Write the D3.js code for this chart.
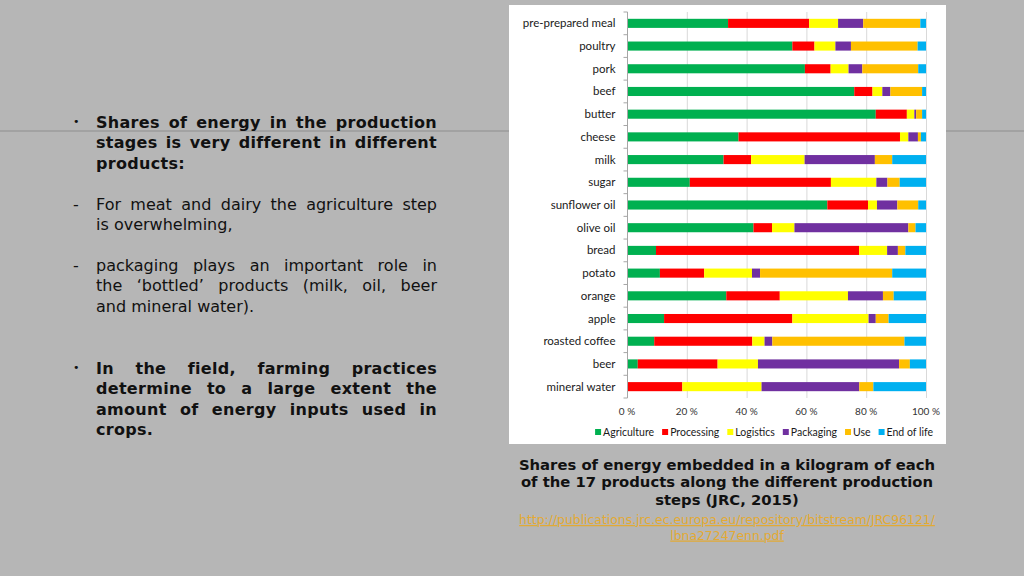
<!DOCTYPE html>
<html>
<head>
<meta charset="utf-8">
<script src="https://cdn.jsdelivr.net/npm/d3@7"></script>
<style>
  html, body { margin: 0; padding: 0; background: #b6b6b6; }
  svg { display: block; }
</style>
</head>
<body>
<svg id="chart" width="1024" height="576"></svg>
<script>
// ---------- DATA ----------
const categories = ["pre-prepared meal","poultry","pork","beef","butter","cheese","milk","sugar",
  "sunflower oil","olive oil","bread","potato","orange","apple","roasted coffee","beer","mineral water"];
const seriesNames = ["Agriculture","Processing","Logistics","Packaging","Use","End of life"];
const agriculture = [33.8,55.3,59.5,76.0,83.2,37.3,32.3,21.0,67.0,42.3, 9.7,11.0,33.2,12.4, 9.1, 3.6, 0.0];
const processing  = [27.1, 7.4, 8.6, 6.1,10.4,54.0, 9.2,47.2,13.6, 6.2,67.9,14.8,17.9,42.9,32.8,26.7,18.5];
const logistics   = [ 9.7, 7.0, 6.0, 3.3, 2.5, 2.8,17.9,15.2, 3.0, 7.5, 9.4,16.0,22.8,25.5, 4.1,13.5,26.5];
const packaging   = [ 8.4, 5.2, 4.6, 2.7, 0.6, 3.2,23.5, 3.7, 6.8,38.1, 3.6, 2.7,11.7, 2.4, 2.6,47.2,32.7];
const use         = [19.1,22.3,18.7,10.6, 2.0, 1.0, 5.8, 4.1, 7.0, 2.4, 2.5,44.2, 3.6, 4.3,44.2, 3.6, 4.7];
const endOfLife   = [ 1.9, 2.8, 2.6, 1.3, 1.3, 1.7,11.3, 8.8, 2.6, 3.5, 6.9,11.3,10.8,12.5, 7.2, 5.4,17.6];
const xTicks = [0, 0.2, 0.4, 0.6, 0.8, 1.0];
const xTickLabels = ["0 %","20 %","40 %","60 %","80 %","100 %"];
const colors = ["#00b050","#ff0000","#ffff00","#7030a0","#ffc000","#00b0f0"];

const bulletText = [
  {mark:"•", bold:true, y:128, lines:["Shares of energy in the production","stages is very different in different","products:"]},
  {mark:"-", bold:false, y:210, lines:["For meat and dairy the agriculture step","is overwhelming,"]},
  {mark:"-", bold:false, y:271, lines:["packaging plays an important role in","the ‘bottled’ products (milk, oil, beer","and mineral water)."]},
  {mark:"•", bold:true, y:374, lines:["In the field, farming practices","determine to a large extent the","amount of energy inputs used in","crops."]}
];
const captionLines = ["Shares of energy embedded in a kilogram of each","of the 17 products along the different production","steps (JRC, 2015)"];
const linkLines = ["http://publications.jrc.ec.europa.eu/repository/bitstream/JRC96121/","lbna27247enn.pdf"];

// ---------- DRAW ----------
const svg = d3.select("#chart");
svg.append("rect").attr("width",1024).attr("height",576).attr("fill","#b6b6b6");

// slide rule line
svg.append("line").attr("x1",0).attr("x2",1024).attr("y1",131).attr("y2",131)
  .attr("stroke","#8e8e8e").attr("stroke-width",1);

// chart panel
svg.append("rect").attr("x",509).attr("y",5).attr("width",437).attr("height",439).attr("fill","#ffffff");

const rows = categories.map((c,i)=>({cat:c, Agriculture:agriculture[i], Processing:processing[i],
  Logistics:logistics[i], Packaging:packaging[i], Use:use[i], "End of life":endOfLife[i]}));
const stack = d3.stack().keys(seriesNames).offset(d3.stackOffsetExpand);
const stacked = stack(rows);

const x = d3.scaleLinear().domain([0,1]).range([627,926]);
const y = d3.scaleBand().domain(categories).range([12,398]).paddingInner(0.6).paddingOuter(0.3);
const color = d3.scaleOrdinal().domain(seriesNames).range(colors);

// gridlines
svg.append("g").selectAll("line").data(xTicks.slice(1)).join("line")
  .attr("x1",d=>x(d)+0.5).attr("x2",d=>x(d)+0.5).attr("y1",12).attr("y2",398)
  .attr("stroke","#d9d9d9").attr("stroke-width",1);

// bars
svg.append("g").selectAll("g").data(stacked).join("g").attr("fill",d=>color(d.key))
  .selectAll("rect").data(d=>d).join("rect")
  .attr("x",d=>x(d[0])).attr("width",d=>Math.max(0,x(d[1])-x(d[0])))
  .attr("y",d=>y(d.data.cat)).attr("height",y.bandwidth());

// y axis
const yAxisG = svg.append("g").attr("transform",`translate(${x(0)+0.5},0)`);
yAxisG.append("line").attr("y1",12).attr("y2",398).attr("stroke","#a6a6a6");
const bounds = d3.range(categories.length+1).map(i=>12 + i*y.step());
yAxisG.selectAll("line.t").data(bounds).join("line").attr("class","t")
  .attr("x1",-4).attr("x2",0).attr("y1",d=>d).attr("y2",d=>d).attr("stroke","#a6a6a6");
yAxisG.selectAll("text").data(categories).join("text")
  .attr("x",-12).attr("y",d=>y(d)+y.bandwidth()/2).attr("dy","0.35em")
  .attr("text-anchor","end").attr("font-family","Lato, 'Liberation Sans', sans-serif")
  .attr("font-size",11.5).attr("fill","#1a1a1a").text(d=>d);

// x axis labels
svg.append("g").selectAll("text").data(xTicks).join("text")
  .attr("x",d=>x(d)).attr("y",415).attr("text-anchor","middle")
  .attr("font-family","Lato, 'Liberation Sans', sans-serif").attr("font-size",10).attr("fill","#333")
  .text((d,i)=>xTickLabels[i]);

// legend
const leg = svg.append("g");
let lx = 0;
seriesNames.forEach(n=>{
  const g = leg.append("g");
  g.append("rect").attr("x",0).attr("y",-3).attr("width",6).attr("height",6).attr("fill",color(n));
  const t = g.append("text").attr("x",8).attr("y",0).attr("dy","0.35em")
    .attr("font-family","Lato, 'Liberation Sans', sans-serif").attr("font-size",10.5).attr("fill","#1a1a1a").text(n);
  const w = 8 + t.node().getComputedTextLength();
  g.attr("transform",`translate(${lx},0)`);
  lx += w + 8;
});
const legW = lx - 8;
leg.attr("transform",`translate(${933 - legW},432)`);

// left justified text
const left = 96, right = 437, lineH = 20.3;
function justify(g, line, yy, bold, last){
  const words = line.split(" ");
  const tmp = words.map(w=>g.append("text").attr("font-family","'DejaVu Sans', Verdana, sans-serif")
    .attr("font-size",16).attr("font-weight",bold?"bold":"normal")
    .attr("letter-spacing",bold?0.3:0).attr("fill","#111").text(w));
  const widths = tmp.map(t=>t.node().getComputedTextLength());
  const total = d3.sum(widths);
  const space = last ? 5.1 : (right-left-total)/(words.length-1);
  let cx = left;
  tmp.forEach((t,i)=>{ t.attr("x",cx).attr("y",yy); cx += widths[i] + space; });
}
const tg = svg.append("g");
bulletText.forEach(p=>{
  tg.append("text").attr("x",73).attr("y",p.y)
    .attr("font-family","'DejaVu Sans', Verdana, sans-serif").attr("font-size",p.mark==="•"?11:16)
    .attr("fill","#111").text(p.mark).attr("dy",p.mark==="•"?-3:0);
  p.lines.forEach((l,i)=>justify(tg,l,p.y+i*lineH,p.bold,i===p.lines.length-1));
});

// caption
const cx0 = 727;
svg.append("g").selectAll("text").data(captionLines).join("text")
  .attr("x",cx0).attr("y",(d,i)=>470+i*17.3).attr("text-anchor","middle")
  .attr("font-family","'DejaVu Sans', Verdana, sans-serif").attr("font-weight","bold")
  .attr("font-size",14.8).attr("fill","#111").text(d=>d);
svg.append("g").selectAll("text").data(linkLines).join("text")
  .attr("x",cx0).attr("y",(d,i)=>524+i*15.5).attr("text-anchor","middle")
  .attr("font-family","'DejaVu Sans', Verdana, sans-serif")
  .attr("font-size",12.4).attr("fill","#e3aa34").attr("text-decoration","underline").text(d=>d);
</script>
</body>
</html>
